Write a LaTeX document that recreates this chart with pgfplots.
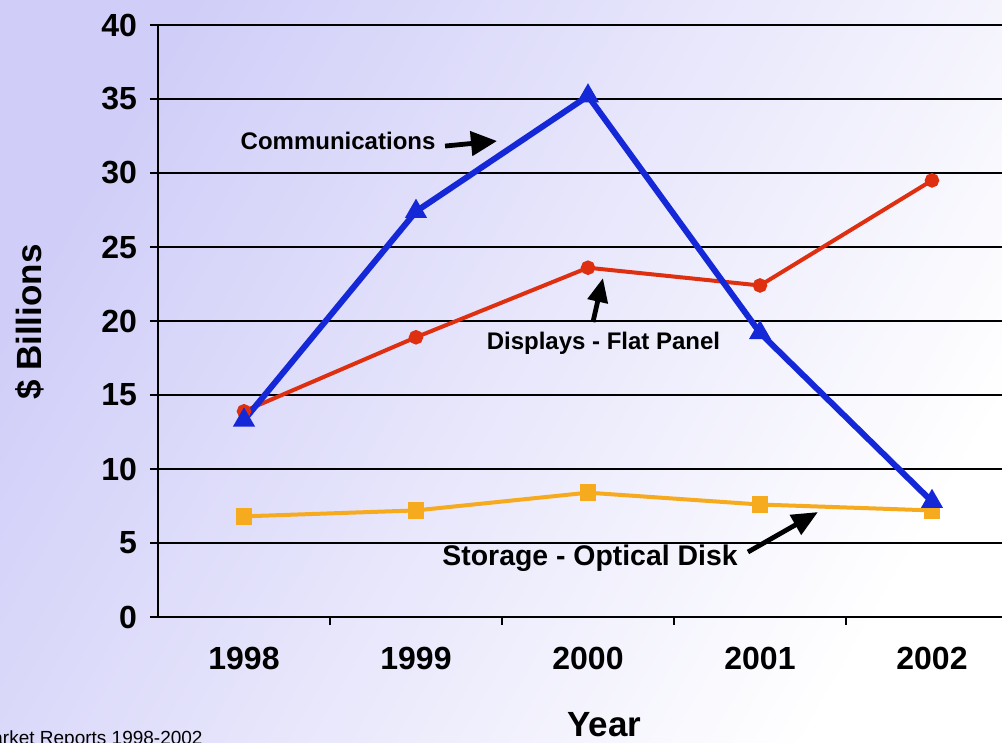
\documentclass[border=0pt]{standalone}
\usepackage{pgfplots}
\pgfplotsset{compat=1.18}
\usepackage{fontspec}
\setmainfont{Liberation Sans}
\usetikzlibrary{arrows.meta}
\definecolor{cblue}{RGB}{20,40,215}
\definecolor{cred}{RGB}{222,48,16}
\definecolor{corange}{RGB}{246,170,30}
\definecolor{lavUL}{RGB}{208,206,248}
\pgfplotstableread{
x y
0 13.3
1 27.4
2 35.2
3 19.2
4 7.8
}\comm
\pgfplotstableread{
x y
0 13.9
1 18.9
2 23.6
3 22.4
4 29.5
}\disp
\pgfplotstableread{
x y
0 6.8
1 7.2
2 8.4
3 7.6
4 7.2
}\stor
\begin{document}
\begin{tikzpicture}[x=1pt,y=1pt]
\useasboundingbox (0,0) rectangle (501,371.5);
\clip (0,0) rectangle (501,371.5);
\shade[left color=lavUL, right color=white, shading angle=60] (0,0) rectangle (501,371.5);
\begin{axis}[
  at={(79pt,63pt)}, anchor=south west,
  scale only axis, width=430pt, height=296pt,
  xmin=-0.5, xmax=4.5, ymin=0, ymax=40,
  axis x line*=bottom, axis y line*=left,
  axis line style={black, line width=0.9pt},
  ytick={0,5,...,40},
  xtick={0,1,2,3,4},
  xticklabels={1998,1999,2000,2001,2002},
  minor xtick={0.5,1.5,2.5,3.5},
  tick align=outside,
  major tick length=4pt, minor tick length=4pt,
  x tick style={draw=none},
  minor x tick style={draw=black, line width=0.9pt},
  y tick style={black, line width=0.9pt},
  ymajorgrids,
  grid style={black, line width=0.7pt},
  /pgf/number format/assume math mode=true,
  tick label style={font=\fontsize{16}{16}\selectfont\bfseries},
  xticklabel style={yshift=-7.5pt},
  yticklabel style={xshift=-3pt},
  xlabel={Year}, ylabel={\$ Billions},
  xlabel style={font=\fontsize{17.5}{18}\selectfont\bfseries, at={(axis description cs:0.519,-0.182)}, anchor=center},
  ylabel style={font=\fontsize{17.5}{18}\selectfont\bfseries, at={(axis description cs:-0.149,0.498)}, anchor=center, rotate=0},
  clip=false,
]
\addplot[corange, line width=2pt, mark=square*, mark size=3.2pt, mark options={solid}] table[x=x,y=y] {\stor};
\addplot[cred, line width=2pt, mark=*, mark size=2.6pt] table[x=x,y=y] {\disp};
\addplot[cblue, line width=3pt, mark=triangle*, mark size=3.4pt] table[x=x,y=y] {\comm};
\node[font=\fontsize{12}{12}\selectfont\bfseries] at (axis cs:0.547,32.2) {Communications};
\node[font=\fontsize{12}{12}\selectfont\bfseries] at (axis cs:2.09,18.5) {Displays - Flat Panel};
\node[font=\fontsize{14.2}{14}\selectfont\bfseries] at (axis cs:2.012,4.0) {Storage - Optical Disk};
\draw[black, line width=2.4pt, -{Triangle[length=13pt,width=12pt]}] (axis cs:1.169,31.82) -- (axis cs:1.471,32.16);
\draw[black, line width=2.4pt, -{Triangle[length=12pt,width=10pt]}] (axis cs:2.029,19.93) -- (axis cs:2.087,22.9);
\draw[black, line width=2.4pt, -{Triangle[length=13pt,width=11pt]}] (axis cs:2.93,4.39) -- (axis cs:3.337,7.09);
\end{axis}
\node[anchor=base east, font=\fontsize{9.5}{10}\selectfont, inner sep=0pt] at (101.5,-1) {Market Reports 1998-2002};
\end{tikzpicture}
\end{document}
